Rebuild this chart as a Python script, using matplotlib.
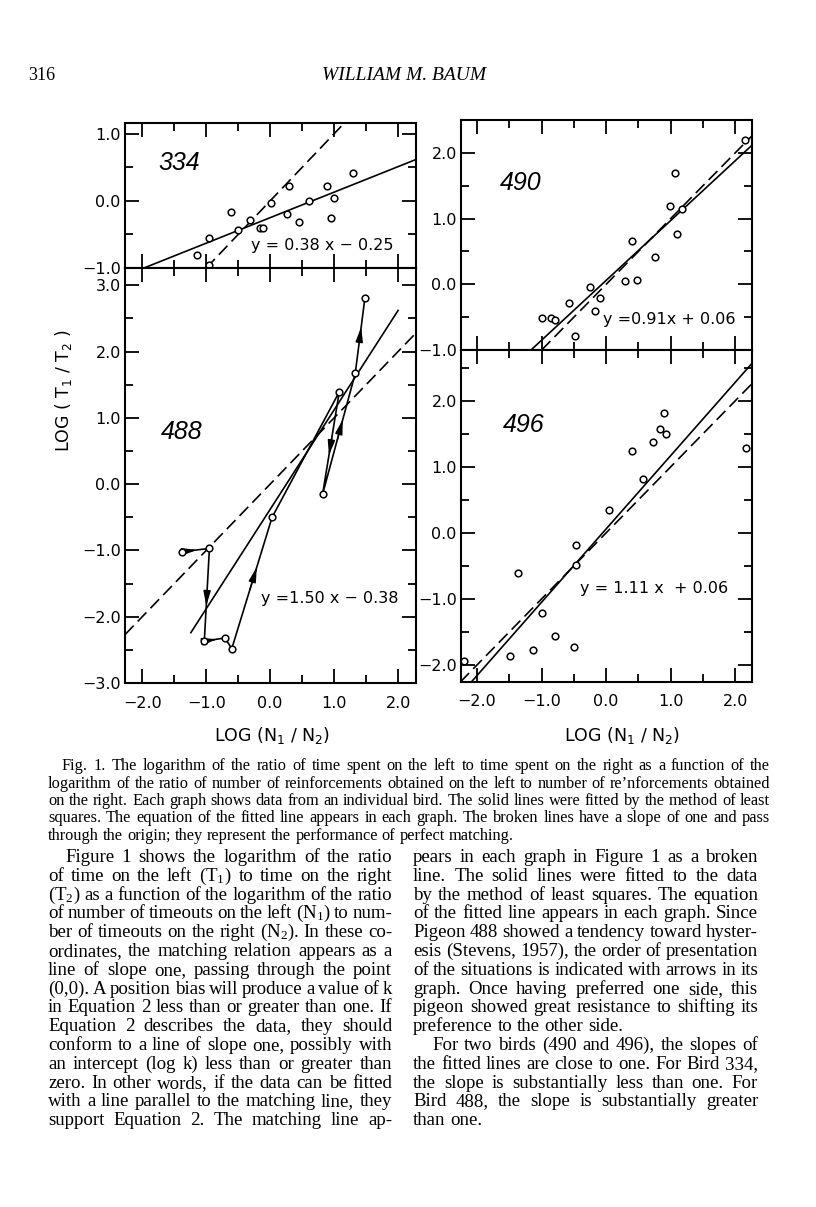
import matplotlib
matplotlib.use('Agg')
import matplotlib.pyplot as plt
from matplotlib.ticker import MultipleLocator, FuncFormatter

plt.rcParams['mathtext.fontset'] = 'custom'
plt.rcParams['mathtext.rm'] = 'Liberation Serif'
plt.rcParams['mathtext.it'] = 'Liberation Serif:italic'
plt.rcParams['mathtext.sf'] = 'DejaVu Sans'
plt.rcParams['font.family'] = ['DejaVu Sans']

# ---------------- data ----------------
x334 = [-1.15, -0.96, -0.95, -0.62, -0.50, -0.31, -0.16, -0.12, 0.02, 0.29, 0.27, 0.45, 0.61, 0.89, 1.00, 0.95, 1.30]
y334 = [-0.81, -0.55, -0.95, -0.16, -0.44, -0.28, -0.41, -0.41, -0.03, 0.22, -0.20, -0.32, 0.00, 0.22, 0.04, -0.26, 0.42]
fit334 = (0.38, -0.25)

# bird 488, in order of presentation
x488 = [-1.38, -0.95, -1.03, -0.71, -0.60, 0.03, 1.08, 0.82, 1.33, 1.48]
y488 = [-1.02, -0.97, -2.37, -2.32, -2.48, -0.50, 1.39, -0.15, 1.67, 2.80]
arrows488 = [0, 1, 2, 4, 6, 7, 8]  # segment start indices carrying arrows
fit488 = (1.50, -0.38)

x490 = [-1.00, -0.85, -0.79, -0.58, -0.48, -0.25, -0.17, -0.09, 0.29, 0.40, 0.47, 0.75, 0.99, 1.06, 1.10, 1.17, 2.15]
y490 = [-0.52, -0.52, -0.55, -0.29, -0.78, -0.04, -0.41, -0.21, 0.05, 0.66, 0.07, 0.42, 1.19, 1.70, 0.76, 1.15, 2.19]
fit490 = (0.91, 0.06)

x496 = [-2.21, -1.49, -1.37, -1.13, -1.00, -0.79, -0.50, -0.47, -0.46, 0.04, 0.40, 0.57, 0.73, 0.83, 0.90, 0.92, 2.16]
y496 = [-1.94, -1.87, -0.61, -1.78, -1.22, -1.57, -1.73, -0.19, -0.49, 0.35, 1.24, 0.82, 1.38, 1.57, 1.82, 1.50, 1.28]
fit496 = (1.11, 0.06)

birds = ['334', '488', '490', '496']
equations = ['y = 0.38 x \u2212 0.25', 'y =1.50 x \u2212 0.38', 'y =0.91x + 0.06', 'y = 1.11 x  + 0.06']

header_page = '316'
header_author = 'WILLIAM M. BAUM'
caption_lines = [
    'Fig. 1. The logarithm of the ratio of time spent on the left to time spent on the right as a function of the',
    'logarithm of the ratio of number of reinforcements obtained on the left to number of re\u2019nforcements obtained',
    'on the right. Each graph shows data from an individual bird. The solid lines were fitted by the method of least',
    'squares. The equation of the fitted line appears in each graph. The broken lines have a slope of one and pass',
    'through the origin; they represent the performance of perfect matching.',
]
body_left = [
    'Figure 1 shows the logarithm of the ratio',
    'of time on the left ($\\mathrm{T}_1$) to time on the right',
    '($\\mathrm{T}_2$) as a function of the logarithm of the ratio',
    'of number of timeouts on the left ($\\mathrm{N}_1$) to num-',
    'ber of timeouts on the right ($\\mathrm{N}_2$). In these co-',
    'ordinates, the matching relation appears as a',
    'line of slope one, passing through the point',
    '(0,0). A position bias will produce a value of k',
    'in Equation 2 less than or greater than one. If',
    'Equation 2 describes the data, they should',
    'conform to a line of slope one, possibly with',
    'an intercept (log k) less than or greater than',
    'zero. In other words, if the data can be fitted',
    'with a line parallel to the matching line, they',
    'support Equation 2. The matching line ap-',
]
body_right = [
    'pears in each graph in Figure 1 as a broken',
    'line. The solid lines were fitted to the data',
    'by the method of least squares. The equation',
    'of the fitted line appears in each graph. Since',
    'Pigeon 488 showed a tendency toward hyster-',
    'esis (Stevens, 1957), the order of presentation',
    'of the situations is indicated with arrows in its',
    'graph. Once having preferred one side, this',
    'pigeon showed great resistance to shifting its',
    'preference to the other side.',
    'For two birds (490 and 496), the slopes of',
    'the fitted lines are close to one. For Bird 334,',
    'the slope is substantially less than one. For',
    'Bird 488, the slope is substantially greater',
    'than one.',
]

# ---------------- figure ----------------
W, H = 816, 1207
fig = plt.figure(figsize=(W / 100, H / 100), dpi=100)
renderer = fig.canvas.get_renderer()


def ax_at(l, t, r, b):
    return fig.add_axes([l / W, 1 - b / H, (r - l) / W, (b - t) / H])


def fmt(v, pos):
    s = '%.1f' % abs(v)
    return ('\u2212' + s) if v < -1e-9 else s


TICKFS = 11.5


def style(ax, xlim, ylim, xlabels):
    ax.set_xlim(*xlim)
    ax.set_ylim(*ylim)
    ax.xaxis.set_major_locator(MultipleLocator(1.0))
    ax.xaxis.set_minor_locator(MultipleLocator(0.5))
    ax.yaxis.set_major_locator(MultipleLocator(1.0))
    ax.yaxis.set_minor_locator(MultipleLocator(0.5))
    ax.xaxis.set_major_formatter(FuncFormatter(fmt))
    ax.yaxis.set_major_formatter(FuncFormatter(fmt))
    ax.tick_params(which='both', direction='in', top=True, right=True, width=1.3,
                   labelsize=TICKFS, pad=3)
    ax.tick_params(which='major', length=10)
    ax.tick_params(which='minor', length=5.5)
    ax.tick_params(axis='x', labelbottom=xlabels, pad=9)
    for s in ax.spines.values():
        s.set_linewidth(1.5)


LINE = dict(color='black', lw=1.2)
DASH = dict(color='black', lw=1.2, dashes=(7.5, 3.5))
MK = dict(ls='none', marker='o', ms=4.8, mfc='white', mec='black', mew=1.1, zorder=4)
BIRDFS = 18
EQFS = 11.5

# panel 334
ax1 = ax_at(125, 123, 416, 268)
style(ax1, (-2.27, 2.28), (-1.0, 1.16), False)
xs = [-1.97, 2.28]
ax1.plot(xs, [fit334[0] * v + fit334[1] for v in xs], **LINE)
ax1.plot([-1.0, 1.2], [-1.0, 1.2], **DASH)
ax1.plot(x334, y334, **MK)
ax1.text(-1.42, 0.56, birds[0], fontsize=BIRDFS, style='italic', ha='center', va='center', family='Liberation Sans')
ax1.text(0.82, -0.66, equations[0], fontsize=EQFS, ha='center', va='center')

# panel 488
ax2 = ax_at(125, 268, 416, 683)
style(ax2, (-2.27, 2.28), (-3.0, 3.26), True)
xs = [-1.24, 2.0]
ax2.plot(xs, [fit488[0] * v + fit488[1] for v in xs], **LINE)
ax2.plot([-2.27, 2.28], [-2.27, 2.28], **DASH)
ax2.plot(x488, y488, color='black', lw=1.2, zorder=3)
for i in arrows488:
    xa, ya, xb, yb = x488[i], y488[i], x488[i + 1], y488[i + 1]
    f0, f1 = (0.35, 0.55) if i == 0 else (0.45, 0.62)
    ax2.annotate('', xy=(xa + f1 * (xb - xa), ya + f1 * (yb - ya)),
                 xytext=(xa + f0 * (xb - xa), ya + f0 * (yb - ya)),
                 arrowprops=dict(arrowstyle='-|>,head_length=0.9,head_width=0.22',
                                 color='black', lw=1.0, shrinkA=0, shrinkB=0))
ax2.plot(x488, y488, **MK)
ax2.text(-1.38, 0.79, birds[1], fontsize=BIRDFS, style='italic', ha='center', va='center', family='Liberation Sans')
ax2.text(0.93, -1.72, equations[1], fontsize=EQFS, ha='center', va='center')

# panel 490
ax3 = ax_at(461, 120, 752, 350)
style(ax3, (-2.25, 2.26), (-1.0, 2.5), False)
xs = [(-1.0 - fit490[1]) / fit490[0], 2.26]
ax3.plot(xs, [fit490[0] * v + fit490[1] for v in xs], **LINE)
ax3.plot([-1.0, 2.26], [-1.0, 2.26], **DASH)
ax3.plot(x490, y490, **MK)
ax3.text(-1.33, 1.54, birds[2], fontsize=BIRDFS, style='italic', ha='center', va='center', family='Liberation Sans')
ax3.text(0.97, -0.54, equations[2], fontsize=EQFS, ha='center', va='center')

# panel 496
ax4 = ax_at(461, 350, 752, 682)
style(ax4, (-2.25, 2.26), (-2.26, 2.77), True)
xs = [(-2.26 - fit496[1]) / fit496[0], 2.26]
ax4.plot(xs, [fit496[0] * v + fit496[1] for v in xs], **LINE)
ax4.plot([-2.26, 2.26], [-2.26, 2.26], **DASH)
ax4.plot(x496, y496, **MK)
ax4.text(-1.28, 1.63, birds[3], fontsize=BIRDFS, style='italic', ha='center', va='center', family='Liberation Sans')
ax4.text(0.74, -0.85, equations[3], fontsize=EQFS, ha='center', va='center')

# axis labels
fig.text(63 / W, 1 - 391 / H, 'LOG ( $\\mathsf{T_1}$ / $\\mathsf{T_2}$ )', rotation=90, fontsize=12.5,
         ha='center', va='center')
for cx in (272, 622):
    fig.text(cx / W, 1 - 736 / H, 'LOG ($\\mathsf{N_1}$ / $\\mathsf{N_2}$)', fontsize=12.5,
             ha='center', va='center')

# ---------------- page text ----------------
SERIF = ['Liberation Serif', 'DejaVu Serif']


def measure(s, fs, style_='normal'):
    t = fig.text(0, 0, s, fontsize=fs, family=SERIF, style=style_)
    w = t.get_window_extent(renderer).width
    t.remove()
    return w


def put_line(text, x0, x1, base, fs, justify=True):
    words = text.split(' ')
    objs = [fig.text(0, 0, w, fontsize=fs, family=SERIF, ha='left', va='baseline') for w in words]
    widths = [o.get_window_extent(renderer).width for o in objs]
    sp = measure('a a', fs) - measure('aa', fs)
    if justify and len(words) > 1:
        gap = (x1 - x0 - sum(widths)) / (len(words) - 1)
    else:
        gap = sp
    x = x0
    for o, w in zip(objs, widths):
        o.set_position((x / W, 1 - base / H))
        x += w + gap


def fit_size(lines, x0s, x1s, ref_line, ref_width, min_gap):
    fs = 10.0 * ref_width / measure(ref_line, 10.0)
    for ln, x0, x1 in zip(lines, x0s, x1s):
        n = len(ln.split(' ')) - 1
        wnat = sum(measure(w, fs) for w in ln.split(' '))
        avail = x1 - x0 - min_gap * n
        if wnat > avail:
            fs *= avail / wnat
    return fs


fig.text(28 / W, 1 - 80 / H, header_page, fontsize=13, family=SERIF, ha='left', va='baseline')
fig.text(404 / W, 1 - 80 / H, header_author, fontsize=14, family=SERIF, style='italic',
         ha='center', va='baseline')

cap_x0 = [62, 48, 48, 48, 48]
cap_fs = fit_size(caption_lines[:4], cap_x0[:4], [770] * 4, caption_lines[4], 467, 3.6)
cap_base = [770, 787.5, 805, 822.5, 840]
for i, line in enumerate(caption_lines):
    put_line(line, cap_x0[i], 770, cap_base[i], cap_fs, justify=(i < len(caption_lines) - 1))

left_x0 = [65] + [48] * 14
right_x0 = [413] * 10 + [432] + [413] * 4
right_just = [i not in (9, 14) for i in range(15)]
jl = body_left + [l for l, j in zip(body_right, right_just) if j]
jx0 = left_x0 + [x for x, j in zip(right_x0, right_just) if j]
jx1 = [392] * 15 + [758] * sum(right_just)
body_fs = fit_size(jl, jx0, jx1, body_right[9], 210, 3.4)

for i, line in enumerate(body_left):
    put_line(line, left_x0[i], 392, 862 + 18.8 * i, body_fs, justify=True)

for i, line in enumerate(body_right):
    put_line(line, right_x0[i], 758, 862 + 18.8 * i, body_fs, justify=right_just[i])

fig.savefig('out.png', dpi=100)
